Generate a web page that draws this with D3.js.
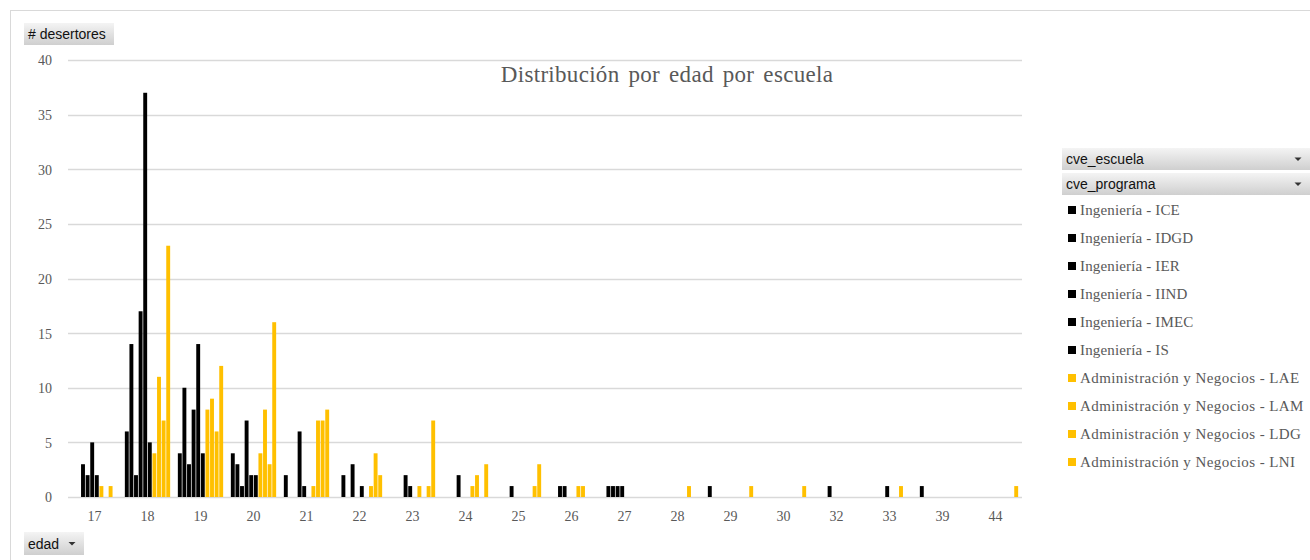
<!DOCTYPE html>
<html>
<head>
<meta charset="utf-8">
<script src="https://cdn.jsdelivr.net/npm/d3@7"></script>
<style>
  html, body { margin: 0; padding: 0; background: #fff; }
  svg { display: block; }
</style>
</head>
<body>
<svg id="chart" width="1310" height="560"></svg>
<script>
// Ages (category axis)
const edades = ["17","18","19","20","21","22","23","24","25","26","27","28","29","30","32","33","39","44"];

// Series: programme keys and their school
const programas = [
  "Ingeniería - ICE", "Ingeniería - IDGD", "Ingeniería - IER", "Ingeniería - IIND",
  "Ingeniería - IMEC", "Ingeniería - IS",
  "Administración y Negocios - LAE", "Administración y Negocios - LAM",
  "Administración y Negocios - LDG", "Administración y Negocios - LNI"
];
const escuelaDe = ["ING","ING","ING","ING","ING","ING","AN","AN","AN","AN"];

// Dropouts per age, one array per programme
const ICE  = [0, 6, 4, 4, 2, 0, 0, 0, 0, 0, 0, 0, 1, 0, 0, 0, 1, 0];
const IDGD = [0,14,10, 3, 0, 2, 0, 0, 0, 0, 1, 0, 0, 0, 0, 0, 0, 0];
const IER  = [3, 2, 3, 1, 0, 0, 0, 0, 0, 1, 1, 0, 0, 0, 0, 0, 0, 0];
const IIND = [2,17, 8, 7, 6, 3, 2, 2, 1, 1, 1, 0, 0, 0, 1, 0, 0, 0];
const IMEC = [5,37,14, 2, 1, 0, 1, 0, 0, 0, 1, 0, 0, 0, 0, 1, 0, 0];
const IS   = [2, 5, 4, 2, 0, 1, 0, 0, 0, 0, 0, 0, 0, 0, 0, 0, 0, 0];
const LAE  = [1, 4, 8, 4, 1, 0, 1, 1, 0, 1, 0, 0, 0, 0, 0, 0, 0, 0];
const LAM  = [0,11, 9, 8, 7, 1, 0, 2, 0, 1, 0, 1, 0, 0, 0, 1, 0, 0];
const LDG  = [1, 7, 6, 3, 7, 4, 1, 0, 1, 0, 0, 0, 0, 0, 0, 0, 0, 0];
const LNI  = [0,23,12,16, 8, 2, 7, 3, 3, 0, 0, 0, 1, 1, 0, 0, 0, 1];
const valores = [ICE, IDGD, IER, IIND, IMEC, IS, LAE, LAM, LDG, LNI];

// Y tick values
const yTicks = [0, 5, 10, 15, 20, 25, 30, 35, 40];

const colorEscuela = { ING: "#000000", AN: "#FFC000" };
const serif = "'Liberation Serif', 'Times New Roman', serif";
const sans = "'Liberation Sans', Arial, sans-serif";
const textGray = "#595959";
const gridGray = "#d9d9d9";

const svg = d3.select("#chart");

// Gradient for the pivot field buttons
const defs = svg.append("defs");
const grad = defs.append("linearGradient").attr("id", "btnGrad")
  .attr("x1", 0).attr("y1", 0).attr("x2", 0).attr("y2", 1);
grad.append("stop").attr("offset", "0%").attr("stop-color", "#f4f4f4");
grad.append("stop").attr("offset", "100%").attr("stop-color", "#cfcfcf");

// Chart frame (open to the right and bottom edge of the page)
svg.append("rect")
  .attr("x", 10.5).attr("y", 10.5).attr("width", 1320).attr("height", 600)
  .attr("fill", "none").attr("stroke", gridGray).attr("stroke-width", 1);

// Plot area
const plot = { left: 68, right: 1022, top: 60, bottom: 497 };

const x = d3.scaleBand().domain(edades).range([plot.left, plot.right]).padding(0);
const gap = x.bandwidth() * 0.066;
const xs = d3.scaleBand().domain(d3.range(programas.length))
  .range([gap, x.bandwidth() - gap]).padding(0);
const y = d3.scaleLinear().domain([0, 40]).range([plot.bottom, plot.top]);

// Gridlines
svg.append("g")
  .selectAll("line").data(yTicks).join("line")
  .attr("x1", plot.left).attr("x2", plot.right)
  .attr("y1", d => Math.round(y(d)) + 0.5).attr("y2", d => Math.round(y(d)) + 0.5)
  .attr("stroke", gridGray).attr("stroke-width", 1.3);

// Y axis labels
const yAxis = d3.axisLeft(y).tickValues(yTicks).tickSize(0).tickPadding(0);
const gy = svg.append("g").attr("transform", `translate(${52},0)`).call(yAxis);
gy.select(".domain").remove();
gy.selectAll("text").attr("font-family", serif).attr("font-size", 14)
  .attr("fill", textGray).attr("dy", "0.35em");

// X axis labels
const xAxis = d3.axisBottom(x).tickSize(0).tickPadding(0);
const gx = svg.append("g").attr("transform", `translate(0,${plot.bottom + 14})`).call(xAxis);
gx.select(".domain").remove();
gx.selectAll("text").attr("font-family", serif).attr("font-size", 14)
  .attr("fill", textGray).attr("dy", "0.71em");

// Bars
const series = svg.append("g");
programas.forEach((p, i) => {
  const g = series.append("g").attr("fill", colorEscuela[escuelaDe[i]]);
  g.selectAll("rect")
    .data(valores[i].map((v, j) => ({ edad: edades[j], v })).filter(d => d.v > 0))
    .join("rect")
    .attr("x", d => x(d.edad) + xs(i) + 0.35)
    .attr("width", xs.bandwidth() - 0.7)
    .attr("y", d => y(d.v))
    .attr("height", d => y(0) - y(d.v));
});

// Title
svg.append("text")
  .attr("x", 667).attr("y", 82)
  .attr("text-anchor", "middle")
  .attr("font-family", serif).attr("font-size", 23)
  .attr("fill", textGray)
  .attr("letter-spacing", 0.3)
  .attr("word-spacing", 3)
  .text("Distribución por edad por escuela");

// Pivot field button helper
function fieldButton(bx, by, bw, bh, label, arrow) {
  const g = svg.append("g");
  g.append("rect").attr("x", bx).attr("y", by).attr("width", bw).attr("height", bh)
    .attr("fill", "url(#btnGrad)");
  g.append("text").attr("x", bx + 4).attr("y", by + bh / 2 + 5)
    .attr("font-family", sans).attr("font-size", 14).attr("fill", "#111")
    .text(label);
  if (arrow !== null) {
    const cx = bx + arrow, cy = by + bh / 2;
    g.append("path")
      .attr("d", `M${cx - 3.5},${cy - 1.5} L${cx + 3.5},${cy - 1.5} L${cx},${cy + 2} Z`)
      .attr("fill", "#333");
  }
}

fieldButton(24, 23, 90, 22, "# desertores", null);
fieldButton(24, 532, 60, 23, "edad", 48);
fieldButton(1062, 148, 248, 22, "cve_escuela", 236);
fieldButton(1062, 173, 248, 22, "cve_programa", 236);

// Legend
const legend = svg.append("g");
const li = legend.selectAll("g").data(programas).join("g")
  .attr("transform", (d, i) => `translate(1068,${210 + i * 28})`);
li.append("rect").attr("x", 0).attr("y", -4).attr("width", 8).attr("height", 8)
  .attr("fill", (d, i) => colorEscuela[escuelaDe[i]]);
li.append("text").attr("x", 12).attr("y", 5)
  .attr("font-family", serif).attr("font-size", 15)
  .attr("fill", textGray)
  .attr("letter-spacing", (d, i) => escuelaDe[i] === "AN" ? 0.42 : 0.15)
  .text(d => d);
</script>
</body>
</html>
